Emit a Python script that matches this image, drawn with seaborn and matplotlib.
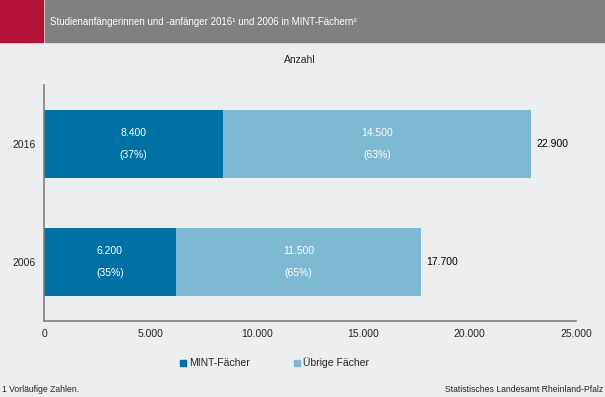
import matplotlib
matplotlib.use('Agg')
import matplotlib.pyplot as plt
from matplotlib.patches import Rectangle
import seaborn as sns
import pandas as pd

years = ['2016', '2006']
mint = [8400, 6200]
uebrige = [14500, 11500]
total = [22900, 17700]
mint_pct = ['(37%)', '(35%)']
uebrige_pct = ['(63%)', '(65%)']
xticks = [0, 5000, 10000, 15000, 20000, 25000]

dark = '#0071a4'
light = '#7fb8d3'
bg = '#ecedee'

sns.set_style('white')
plt.rcParams['font.family'] = ['Liberation Sans', 'DejaVu Sans']

df = pd.DataFrame({'Jahr': years, 'MINT': mint, 'Total': total})

fig = plt.figure(figsize=(6.05, 3.97), dpi=100, facecolor=bg)

# title bar
fig.patches.append(Rectangle((0, 1 - 42 / 397), 43 / 605, 42 / 397, transform=fig.transFigure,
                             color='#b5123a', zorder=0))
fig.patches.append(Rectangle((45 / 605, 1 - 42 / 397), 560 / 605, 42 / 397, transform=fig.transFigure,
                             color='#808080', zorder=0))
fig.text(50 / 605, 1 - 22 / 397, 'Studienanfängerinnen und -anfänger 2016¹ und 2006 in MINT-Fächern²',
         color='white', fontsize=7, va='center', ha='left')

ax = fig.add_axes([44 / 605, 1 - 321 / 397, 532 / 605, 236 / 397])
ax.set_facecolor(bg)

sns.barplot(data=df, x='Total', y='Jahr', color=light, width=0.58, ax=ax, orient='h',
            saturation=1, linewidth=0)
sns.barplot(data=df, x='MINT', y='Jahr', color=dark, width=0.58, ax=ax, orient='h',
            saturation=1, linewidth=0)

for i in range(len(years)):
    ax.text(mint[i] / 2, i - 0.09, f'{mint[i]:,}'.replace(',', '.'), color='white',
            fontsize=7.5, ha='center', va='center')
    ax.text(mint[i] / 2, i + 0.09, mint_pct[i], color='white', fontsize=7.5, ha='center', va='center')
    mid = mint[i] + uebrige[i] / 2
    ax.text(mid, i - 0.09, f'{uebrige[i]:,}'.replace(',', '.'), color='white',
            fontsize=7.5, ha='center', va='center')
    ax.text(mid, i + 0.09, uebrige_pct[i], color='white', fontsize=7.5, ha='center', va='center')
    ax.text(total[i] + 250, i, f'{total[i]:,}'.replace(',', '.'), color='black',
            fontsize=7.5, ha='left', va='center')

ax.set_xlim(0, 25000)
ax.set_ylim(1.5, -0.5)
ax.set_xticks(xticks)
ax.set_xticklabels([f'{v:,}'.replace(',', '.') for v in xticks], fontsize=7.5)
ax.set_yticks(range(len(years)))
ax.set_yticklabels(years, fontsize=7.5)
ax.set_yticks([0.5], minor=True)
ax.tick_params(axis='y', which='major', length=0, pad=6)
ax.tick_params(axis='y', which='minor', length=4, color='#808080', width=1.2, direction='out')
ax.tick_params(axis='x', length=4, color='#808080', width=1, pad=2)
ax.set_xlabel('')
ax.set_ylabel('')
sns.despine(ax=ax)
for s in ['left', 'bottom']:
    ax.spines[s].set_color('#808080')
    ax.spines[s].set_linewidth(1.2)

fig.text(300 / 605, 1 - 60 / 397, 'Anzahl', fontsize=7.5, ha='center', va='center')

# legend
fig.patches.append(Rectangle((180 / 605, 1 - 366 / 397), 6 / 605, 6 / 397, transform=fig.transFigure,
                             color=dark))
fig.text(189 / 605, 1 - 363 / 397, 'MINT-Fächer', fontsize=7.5, va='center')
fig.patches.append(Rectangle((294 / 605, 1 - 366 / 397), 6 / 605, 6 / 397, transform=fig.transFigure,
                             color=light))
fig.text(303 / 605, 1 - 363 / 397, 'Übrige Fächer', fontsize=7.5, va='center')

fig.text(2 / 605, 1 - 389 / 397, '1 Vorläufige Zahlen.', fontsize=6.2, va='center')
fig.text(603 / 605, 1 - 389 / 397, 'Statistisches Landesamt Rheinland-Pfalz', fontsize=6.2,
         va='center', ha='right')

fig.savefig('out.png', dpi=100, facecolor=bg)
